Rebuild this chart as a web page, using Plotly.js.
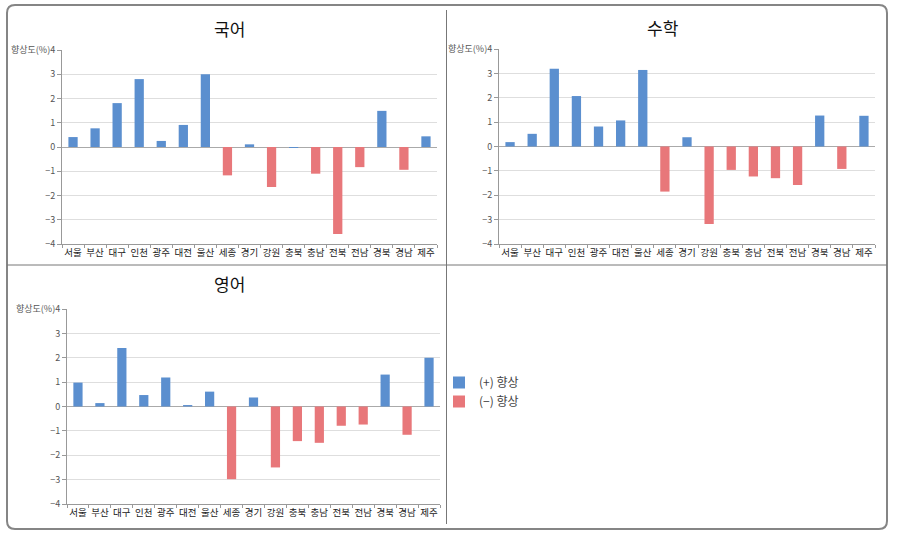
<!DOCTYPE html>
<html>
<head>
<meta charset="utf-8">
<script src="https://cdn.plot.ly/plotly-3.0.1.min.js"></script>
<style>html,body{margin:0;padding:0;background:#fff}#chart{width:897px;height:536px}</style>
</head>
<body>
<div id="chart"></div>
<script>
const regions = ["서울","부산","대구","인천","광주","대전","울산","세종","경기","강원","충북","충남","전북","전남","경북","경남","제주"];
const korean  = [0.41,0.77,1.81,2.80,0.25,0.91,3.00,-1.17,0.11,-1.65,-0.04,-1.10,-3.59,-0.83,1.49,-0.94,0.44];
const math    = [0.18,0.52,3.19,2.07,0.82,1.07,3.14,-1.85,0.38,-3.18,-0.96,-1.23,-1.30,-1.58,1.27,-0.92,1.26];
const english = [0.98,0.14,2.40,0.47,1.19,0.06,0.61,-2.98,0.37,-2.50,-1.42,-1.49,-0.79,-0.74,1.31,-1.16,2.00];
const subjects = ["국어","수학","영어"];
const legendNames = ["(+) 향상","(\u2212) 향상"];
const tickVals = [-4,-3,-2,-1,0,1,2,3,4];
const tickText = ["\u22124","\u22123","\u22122","\u22121","0","1","2","3","향상도(%)4"];

const BLUE = "#5b8fcf", RED = "#e8777a";
const W = 897, H = 536;
const fx = p => p / W, fy = p => 1 - p / H;

const panels = [
  {vals: korean,  x0: 62,  x1: 437, y0: 50,  y1: 244, tx: 229, ty: 28},
  {vals: math,    x0: 499, x1: 875, y0: 49,  y1: 244, tx: 663, ty: 27},
  {vals: english, x0: 67,  x1: 440, y0: 309, y1: 504, tx: 229, ty: 283}
];

const font = "'Noto Sans CJK KR', 'Noto Sans', sans-serif";
const traces = [];
const layout = {
  width: W, height: H,
  margin: {l: 0, r: 0, t: 0, b: 0},
  paper_bgcolor: "#fff", plot_bgcolor: "#fff",
  barmode: "overlay", bargap: 0.58,
  font: {family: font, color: "#333"},
  showlegend: true,
  legend: {x: fx(439), y: fy(368), xanchor: "left", yanchor: "top", bgcolor: "rgba(0,0,0,0)",
           font: {size: 12, color: "#444", family: font}, tracegroupgap: 0, itemwidth: 30},
  annotations: [], shapes: []
};

panels.forEach((p, i) => {
  const n = i === 0 ? "" : String(i + 1);
  const pos = p.vals.map(v => v > -0.05 ? v : null);
  const neg = p.vals.map(v => v > -0.05 ? null : v);
  traces.push({type: "bar", x: regions, y: pos, name: legendNames[0], marker: {color: BLUE},
               xaxis: "x" + n, yaxis: "y" + n, showlegend: i === 0, legendgroup: "p", hoverinfo: "x+y"});
  traces.push({type: "bar", x: regions, y: neg, name: legendNames[1], marker: {color: RED},
               xaxis: "x" + n, yaxis: "y" + n, showlegend: i === 0, legendgroup: "n", hoverinfo: "x+y"});
  layout["xaxis" + n] = {
    domain: [fx(p.x0), fx(p.x1)], anchor: "y" + n, type: "category",
    showline: true, linecolor: "#999", linewidth: 1, mirror: false,
    ticks: "outside", tickson: "boundaries", ticklen: 3, tickcolor: "#999",
    tickangle: 0, automargin: false,
    tickfont: {size: 9.5, color: "#222", family: font}, showgrid: false, fixedrange: true
  };
  layout["yaxis" + n] = {
    domain: [fy(p.y1), fy(p.y0)], anchor: "x" + n, range: [-4, 4],
    tickvals: tickVals, ticktext: tickText, tickfont: {size: 9, color: "#555", family: font},
    showline: true, linecolor: "#999", linewidth: 1, ticks: "outside", ticklen: 4, tickcolor: "#999",
    showgrid: true, gridcolor: "#dedede", gridwidth: 1, automargin: false,
    zeroline: true, zerolinecolor: "#aaa", zerolinewidth: 1, fixedrange: true
  };
  layout.annotations.push({text: subjects[i], xref: "paper", yref: "paper", x: fx(p.tx), y: fy(p.ty),
    xanchor: "center", yanchor: "middle", showarrow: false, font: {size: 17, color: "#111", family: font}});
});

// outer rounded frame and dividers
const L = 7, R = 887, T = 5, B = 529, r = 8;
const px = v => fx(v), py = v => fy(v);
layout.shapes.push({type: "path", xref: "paper", yref: "paper",
  path: `M ${px(L + r)} ${py(T)} L ${px(R - r)} ${py(T)} Q ${px(R)} ${py(T)} ${px(R)} ${py(T + r)} ` +
        `L ${px(R)} ${py(B - r)} Q ${px(R)} ${py(B)} ${px(R - r)} ${py(B)} L ${px(L + r)} ${py(B)} ` +
        `Q ${px(L)} ${py(B)} ${px(L)} ${py(B - r)} L ${px(L)} ${py(T + r)} Q ${px(L)} ${py(T)} ${px(L + r)} ${py(T)} Z`,
  line: {color: "#858585", width: 2}});
layout.shapes.push({type: "line", xref: "paper", yref: "paper", x0: fx(446.5), x1: fx(446.5), y0: fy(10), y1: fy(524),
  line: {color: "#777", width: 1}});
layout.shapes.push({type: "line", xref: "paper", yref: "paper", x0: fx(L), x1: fx(R), y0: fy(265), y1: fy(265),
  line: {color: "#777", width: 1}});

Plotly.newPlot("chart", traces, layout, {displayModeBar: false, staticPlot: true});
</script>
</body>
</html>
